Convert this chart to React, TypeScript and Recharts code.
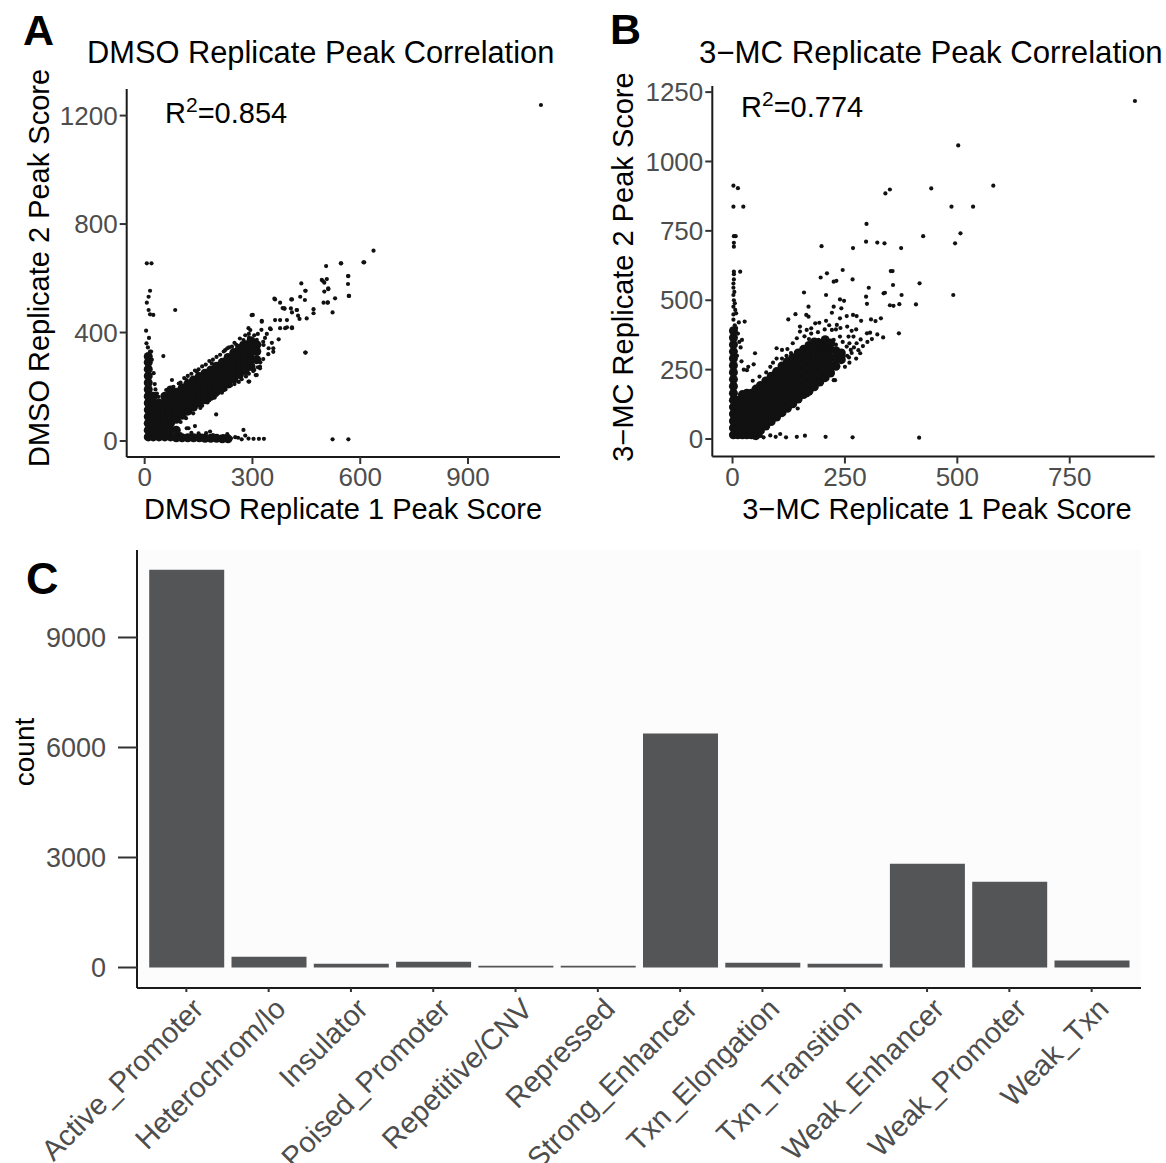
import React from "react";
import { ScatterChart, Scatter, XAxis, YAxis, BarChart, Bar, CartesianGrid } from "recharts";

const FONT = '"Liberation Sans", Arial, Helvetica, sans-serif';
const INK = "#111111";
const TICK_GREY = "#4d4d4d";

// A: DMSO replicate 1 vs replicate 2 peak score (dense core read as blocks, plus single peaks)
const dmsoDense: [number, number][] = [
  [10, 15], [10, 40], [10, 65], [10, 90], [10, 115], [10, 140], [10, 165], [10, 190], [10, 215], [10, 240], [10, 265], [10, 290], [10, 312],
  [24, 15], [24, 40], [24, 65], [24, 90], [24, 115], [24, 140], [24, 165],
  [40, 15], [40, 40], [40, 65], [40, 90], [40, 115], [40, 140],
  [56, 15], [56, 40], [56, 65], [56, 90], [56, 115], [56, 140], [56, 165],
  [72, 15], [72, 40], [72, 65], [72, 90], [72, 115], [72, 140], [72, 165], [72, 188],
  [88, 12], [104, 12], [120, 12], [136, 12], [152, 12], [168, 10], [184, 10], [200, 10], [216, 8], [232, 8], [88, 40],
  [88, 80], [88, 105], [88, 130], [88, 155], [88, 180],
  [104, 95], [104, 120], [104, 145], [104, 170], [104, 195],
  [120, 110], [120, 135], [120, 160], [120, 185], [120, 210],
  [136, 125], [136, 150], [136, 175], [136, 200], [136, 225],
  [152, 140], [152, 165], [152, 190], [152, 215], [152, 238],
  [168, 152], [168, 177], [168, 202], [168, 227], [168, 250],
  [184, 165], [184, 190], [184, 215], [184, 240], [184, 262],
  [200, 182], [200, 207], [200, 232], [200, 256], [200, 276],
  [216, 195], [216, 220], [216, 245], [216, 268], [216, 290],
  [232, 210], [232, 235], [232, 260], [232, 285], [232, 308],
  [248, 228], [248, 252], [248, 278], [248, 302], [248, 326],
  [264, 245], [264, 270], [264, 295], [264, 320], [264, 342],
  [280, 260], [280, 285], [280, 310], [280, 333], [280, 355],
  [296, 275], [296, 300], [296, 325], [296, 350], [296, 370],
  [312, 300], [312, 330], [312, 355],
];

const dmsoSpread: [number, number][] = [
  [1103, 1239],
  [637, 702], [611, 659], [546, 655], [505, 645], [507, 597], [496, 590], [511, 560], [500, 551], [566, 608], [566, 579],
  [568, 535], [530, 526], [509, 510], [498, 510], [523, 474], [436, 581], [448, 554], [446, 520], [448, 326], [470, 486],
  [470, 471], [433, 532], [407, 489], [410, 474], [389, 488], [408, 522], [424, 483], [427, 462], [431, 450], [361, 525],
  [377, 510], [384, 490], [396, 446], [410, 416], [391, 416], [377, 416], [363, 446], [351, 412], [344, 320], [358, 342],
  [331, 354], [312, 373], [301, 465], [289, 416], [326, 443], [298, 360], [284, 348], [321, 274], [312, 243], [289, 219],
  [199, 98],
  [6, 655], [19, 655], [15, 554], [11, 532], [6, 510], [11, 483], [15, 467], [24, 465], [4, 407], [85, 483], [52, 313],
  [9, 345], [15, 330], [18, 330], [5, 360], [12, 380], [20, 300], [25, 250], [28, 210], [30, 190], [34, 175],
  [275, 41], [289, 9], [303, 8], [318, 8], [332, 8], [252, 14], [240, 10], [210, 8], [182, 35], [171, 29], [190, 22],
  [122, 47], [130, 30], [523, 6], [567, 6], [100, 25], [150, 28], [160, 20], [220, 18], [230, 25], [260, 12], [270, 6], [280, 20],
  [38, 163], [66, 176], [89, 182], [76, 225], [117, 225], [145, 256], [187, 286], [224, 335], [243, 348], [270, 360],
  [294, 409], [298, 464], [326, 440], [349, 415], [377, 446], [363, 522], [389, 489], [410, 522], [423, 483], [447, 554],
  [451, 452], [493, 594], [500, 584], [547, 655], [609, 659], [567, 608], [569, 535], [511, 563], [510, 511], [447, 326],
  [410, 419], [396, 419], [345, 342], [358, 329], [321, 268], [309, 243], [291, 219], [354, 362], [373, 375], [140, 55], [117, 47],
  [300, 330], [310, 340], [320, 355], [330, 366], [335, 380], [340, 395], [290, 395], [315, 395], [325, 410], [280, 390],
  [265, 378], [250, 362], [230, 342], [210, 318], [190, 300], [170, 282], [150, 264], [130, 248], [110, 232], [95, 212],
  [80, 200], [60, 188], [240, 205], [262, 218], [282, 238], [302, 258], [315, 272], [322, 290], [330, 302], [215, 178],
  [195, 160], [175, 142], [155, 122], [135, 102], [115, 84], [100, 70],
  [100, 215], [120, 240], [140, 260], [160, 275], [180, 295], [200, 310], [220, 330], [235, 345], [255, 355], [275, 372],
  [290, 380], [305, 390], [160, 130], [180, 150], [200, 170], [225, 190], [250, 210], [270, 228], [290, 248], [305, 262],
];
const dmsoXTicks = [0, 300, 600, 900];
const dmsoYTicks = [0, 400, 800, 1200];

// B: 3-MC replicate 1 vs replicate 2 peak score
const mcDense: [number, number][] = [
  [2, 15], [2, 40], [2, 65], [2, 90], [2, 115], [2, 140], [2, 165], [2, 190], [2, 215], [2, 240], [2, 265], [2, 290], [2, 315], [2, 340], [2, 365], [2, 390],
  [12, 15], [12, 40], [12, 65], [12, 90], [12, 115], [12, 140],
  [22, 15], [22, 40], [22, 65], [22, 90], [22, 115], [22, 140], [22, 160],
  [32, 15], [32, 40], [32, 65], [32, 90], [32, 115], [32, 140], [32, 165],
  [42, 15], [42, 40], [42, 65], [42, 90], [42, 115], [42, 140], [42, 165],
  [52, 12], [52, 40], [52, 65], [52, 90], [52, 115], [52, 140], [52, 165], [52, 180],
  [62, 30], [62, 58], [62, 86], [62, 114], [62, 142], [62, 170], [62, 193],
  [74, 47], [74, 75], [74, 103], [74, 131], [74, 159], [74, 187], [74, 209],
  [86, 63], [86, 91], [86, 119], [86, 147], [86, 175], [86, 203], [86, 226],
  [98, 79], [98, 107], [98, 135], [98, 163], [98, 191], [98, 219], [98, 243],
  [110, 95], [110, 123], [110, 151], [110, 179], [110, 207], [110, 235], [110, 263],
  [122, 111], [122, 139], [122, 167], [122, 195], [122, 223], [122, 251], [122, 279],
  [134, 127], [134, 155], [134, 183], [134, 211], [134, 239], [134, 267], [134, 293],
  [146, 144], [146, 172], [146, 200], [146, 228], [146, 256], [146, 284], [146, 310],
  [158, 160], [158, 188], [158, 216], [158, 244], [158, 272], [158, 300], [158, 323],
  [170, 172], [170, 200], [170, 228], [170, 256], [170, 284], [170, 312], [170, 337],
  [182, 188], [182, 216], [182, 244], [182, 272], [182, 300], [182, 328], [182, 350],
  [194, 205], [194, 233], [194, 261], [194, 289], [194, 317], [194, 345],
  [206, 221], [206, 249], [206, 277], [206, 305], [206, 333], [206, 358],
  [218, 238], [218, 266], [218, 294], [218, 322], [218, 346],
  [230, 262], [230, 290], [230, 318],
  [242, 286], [242, 310],
];

const mcSpread: [number, number][] = [
  [895, 1218], [502, 1058],
  [2, 913], [12, 904], [2, 837], [24, 837], [3, 731], [7, 731], [3, 707], [3, 693], [3, 603], [3, 594], [17, 603], [3, 575],
  [2, 545], [2, 519], [2, 477], [5, 489], [2, 449], [8, 453], [27, 423], [21, 357], [47, 269], [35, 260],
  [5, 410], [2, 430], [8, 400], [12, 380], [15, 350], [18, 330], [10, 300], [20, 280], [25, 250], [14, 420], [6, 465],
  [3, 500], [4, 530], [2, 560],
  [580, 913], [442, 903], [350, 899], [340, 885], [487, 837], [535, 837], [298, 775], [424, 731], [507, 741], [495, 705],
  [375, 688], [268, 688], [198, 695], [297, 711], [322, 708], [338, 705], [245, 609], [352, 605], [356, 605], [416, 561],
  [491, 519], [408, 485], [371, 486], [370, 381], [210, 597], [196, 582], [225, 567], [231, 570], [208, 519], [159, 528],
  [267, 575], [297, 513], [299, 487], [303, 545], [336, 525], [339, 527], [376, 519], [357, 555], [358, 480], [350, 482],
  [330, 435], [335, 366], [322, 377], [306, 383], [318, 425], [308, 431], [276, 443], [286, 426], [268, 447], [254, 443],
  [242, 471], [248, 498], [239, 503], [225, 477], [221, 455], [208, 426], [193, 419], [169, 477], [169, 441], [164, 447],
  [140, 450], [124, 431], [150, 405], [232, 411], [239, 435], [247, 297], [259, 294], [263, 321], [202, 224], [225, 212],
  [145, 110], [167, 158],
  [47, 6], [69, 6], [84, 13], [106, 18], [119, 6], [143, 8], [161, 12], [207, 8], [267, 6], [415, 5], [63, 11], [96, 8],
  [98, 327], [110, 321], [122, 324], [134, 345], [143, 363], [150, 387], [165, 393], [175, 399], [184, 417], [191, 357],
  [206, 351], [221, 393], [225, 357], [239, 369], [254, 333], [258, 369], [269, 369], [276, 345], [284, 309], [285, 359],
  [299, 381], [50, 309], [32, 248], [84, 260], [98, 290], [121, 266], [143, 272], [165, 297], [180, 309], [195, 321],
  [213, 309], [232, 272], [210, 248], [187, 260], [228, 212], [217, 297], [202, 278],
  [180, 340], [200, 335], [215, 330], [230, 340], [245, 350], [260, 345], [270, 330], [280, 320], [290, 335], [300, 350],
  [310, 360], [160, 370], [170, 360], [175, 380], [190, 385], [205, 395], [215, 410], [230, 395], [240, 400], [255, 405],
  [265, 390], [275, 395], [120, 300], [130, 310], [110, 290], [90, 275], [75, 240], [60, 225], [45, 210], [255, 300],
  [265, 310], [275, 290], [260, 275], [250, 260],
];
const mcXTicks = [0, 250, 500, 750];
const mcYTicks = [0, 250, 500, 750, 1000, 1250];

// C: peaks per chromatin state
const states = [
  "Active_Promoter", "Heterochrom/lo", "Insulator", "Poised_Promoter", "Repetitive/CNV", "Repressed",
  "Strong_Enhancer", "Txn_Elongation", "Txn_Transition", "Weak_Enhancer", "Weak_Promoter", "Weak_Txn",
];
const stateCounts = [10850, 290, 100, 160, 50, 50, 6380, 130, 100, 2830, 2340, 190];
const countTicks = [0, 3000, 6000, 9000];

const toXY = (pts: [number, number][]) => pts.map(([x, y]) => ({ x, y }));
const barRows = states.map((name, i) => ({ name, count: stateCounts[i] }));

const dot = (r: number) => (p: any) => <circle cx={p.cx} cy={p.cy} r={r} fill={INK} />;

const axisLine = { stroke: "#1a1a1a", strokeWidth: 2 };
const tickLine = { stroke: "#333333", strokeWidth: 2 };
const tickText = { fontSize: 26, fill: TICK_GREY, fontFamily: FONT };

function ScatterPanel({ dense, spread, xDomain, yDomain, xTicks, yTicks, margin }: any) {
  return (
    <ScatterChart width={margin.w} height={540} margin={{ top: margin.top, right: margin.right, bottom: margin.bottom, left: margin.left }}>
      <XAxis type="number" dataKey="x" domain={xDomain} ticks={xTicks} allowDataOverflow height={40}
        axisLine={axisLine} tickLine={tickLine} tickSize={7} tickMargin={4} tick={tickText} />
      <YAxis type="number" dataKey="y" domain={yDomain} ticks={yTicks} allowDataOverflow width={80}
        axisLine={axisLine} tickLine={tickLine} tickSize={7} tickMargin={2} tick={tickText} />
      <Scatter data={toXY(dense)} shape={dot(4.5)} isAnimationActive={false} />
      <Scatter data={toXY(spread)} shape={dot(2.1)} isAnimationActive={false} />
    </ScatterChart>
  );
}

const StateTick = ({ x, y, payload }: any) => (
  <text x={x + 4} y={y} transform={`rotate(-45, ${x + 4}, ${y})`} textAnchor="end" dominantBaseline="hanging"
    fontSize={29} fill={TICK_GREY} fontFamily={FONT}>
    {payload.value}
  </text>
);

export default function App() {
  return (
    <div style={{ position: "absolute", left: 0, top: 0, width: 1166, height: 1163, background: "#fff", fontFamily: FONT, overflow: "hidden" }}>
      <div style={{ position: "absolute", left: 0, top: 0 }}>
        <ScatterPanel dense={dmsoDense} spread={dmsoSpread} xDomain={[-50, 1156]} yDomain={[-59, 1298]}
          xTicks={dmsoXTicks} yTicks={dmsoYTicks} margin={{ w: 580, top: 89, right: 20, bottom: 43, left: 46.7 }} />
      </div>
      <div style={{ position: "absolute", left: 580, top: 0 }}>
        <ScatterPanel dense={mcDense} spread={mcSpread} xDomain={[-45, 939]} yDomain={[-63, 1272]}
          xTicks={mcXTicks} yTicks={mcYTicks} margin={{ w: 586, top: 86, right: 11.3, bottom: 43.5, left: 52.3 }} />
      </div>
      <div style={{ position: "absolute", left: 0, top: 540 }}>
        <BarChart width={1166} height={623} data={barRows} margin={{ top: 10, right: 25, bottom: 5, left: 27 }}>
          <CartesianGrid horizontal={false} vertical={false} fill="#fcfcfc" />
          <XAxis dataKey="name" interval={0} height={170} padding={{ left: 8.2, right: 8.2 }}
            axisLine={axisLine} tickLine={tickLine} tickSize={4} tickMargin={4} tick={<StateTick />} />
          <YAxis type="number" domain={[-559, 11386]} ticks={countTicks} allowDataOverflow width={110}
            axisLine={axisLine} tickLine={tickLine} tickSize={19} tickMargin={12}
            tick={{ fontSize: 27, fill: TICK_GREY, fontFamily: FONT }} />
          <Bar dataKey="count" fill="#545557" barSize={75} isAnimationActive={false} />
        </BarChart>
      </div>
      <svg width={1166} height={1163} style={{ position: "absolute", left: 0, top: 0, pointerEvents: "none" }} fontFamily={FONT}>
        <text x={23} y={45} fontSize={43} fontWeight="bold" fill="#000">A</text>
        <text x={610} y={44} fontSize={43} fontWeight="bold" fill="#000">B</text>
        <text x={26} y={594} fontSize={45} fontWeight="bold" fill="#000">C</text>
        <text x={87} y={63} fontSize={30.8} fill="#000">DMSO Replicate Peak Correlation</text>
        <text x={699} y={63} fontSize={31.2} fill="#000">3−MC Replicate Peak Correlation</text>
        <text x={165} y={123} fontSize={29} fill="#000">R<tspan fontSize={21} dy={-11}>2</tspan><tspan dy={11}>=0.854</tspan></text>
        <text x={741} y={117} fontSize={29} fill="#000">R<tspan fontSize={21} dy={-11}>2</tspan><tspan dy={11}>=0.774</tspan></text>
        <text x={343} y={519} fontSize={29} textAnchor="middle" fill="#000">DMSO Replicate 1 Peak Score</text>
        <text x={937} y={519} fontSize={29} textAnchor="middle" fill="#000">3−MC Replicate 1 Peak Score</text>
        <text x={49} y={268} fontSize={29} textAnchor="middle" fill="#000" transform="rotate(-90, 49, 268)">DMSO Replicate 2 Peak Score</text>
        <text x={633} y={267} fontSize={29} textAnchor="middle" fill="#000" transform="rotate(-90, 633, 267)">3−MC Replicate 2 Peak Score</text>
        <text x={34} y={752} fontSize={28} textAnchor="middle" fill="#000" transform="rotate(-90, 34, 752)">count</text>
      </svg>
    </div>
  );
}
